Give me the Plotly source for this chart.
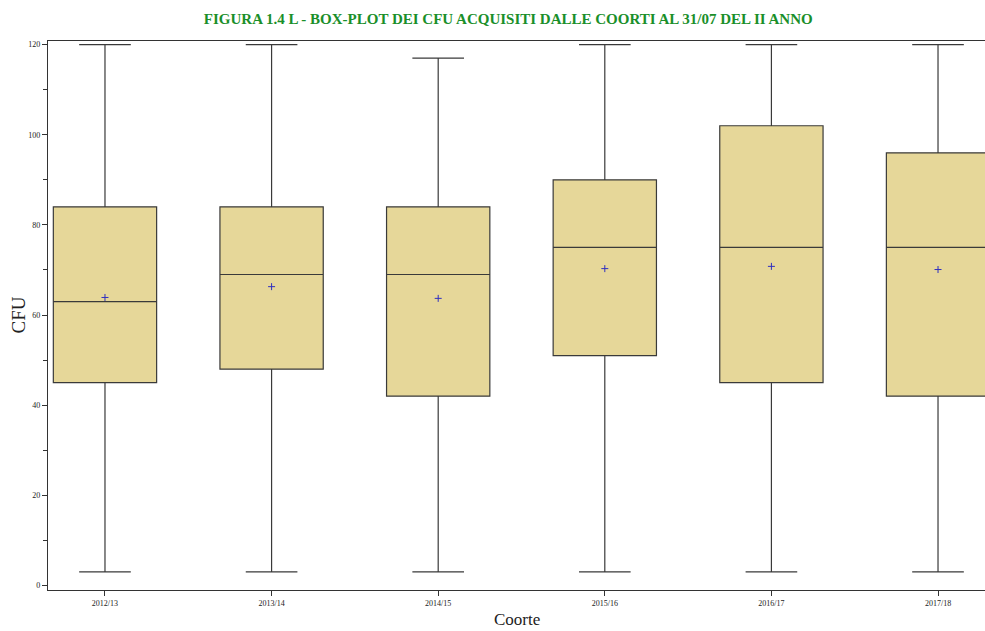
import plotly.graph_objects as go

categories = ["2012/13", "2013/14", "2014/15", "2015/16", "2016/17", "2017/18"]
q1 = [45, 48, 42, 51, 45, 42]
median = [63, 69, 69, 75, 75, 75]
q3 = [84, 84, 84, 90, 102, 96]
lower = [3, 3, 3, 3, 3, 3]
upper = [120, 120, 117, 120, 120, 120]
mean = [63.9, 66.3, 63.7, 70.3, 70.8, 70.1]
y_ticks = [0, 20, 40, 60, 80, 100, 120]

fig = go.Figure()
fig.add_trace(go.Box(
    x=categories, q1=q1, median=median, q3=q3,
    lowerfence=lower, upperfence=upper,
    fillcolor="#E6D799", line=dict(color="#3a3a3a", width=1.2),
    width=0.62, whiskerwidth=0.5, boxpoints=False, showlegend=False,
    hoverinfo="skip",
))
fig.add_trace(go.Scatter(
    x=categories, y=mean, mode="markers",
    marker=dict(symbol="cross-thin", size=5, line=dict(color="#3030c0", width=1)),
    showlegend=False, hoverinfo="skip",
))

serif = "Liberation Serif"
fig.update_layout(
    width=985, height=631,
    margin=dict(l=48, r=0, t=41, b=41, autoexpand=False),
    plot_bgcolor="white", paper_bgcolor="white",
    font=dict(family=serif, color="#222"),
    title=dict(
        text="<b>FIGURA 1.4 L - BOX-PLOT DEI CFU ACQUISITI DALLE COORTI AL 31/07 DEL II ANNO</b>",
        font=dict(family=serif, size=15, color="#1a8f2a"),
        x=0.516, xanchor="center", y=0.971, yanchor="middle",
    ),
    annotations=[
        dict(text="Coorte", xref="paper", yref="paper", x=0.5, y=-0.054,
             xanchor="center", yanchor="middle", showarrow=False,
             font=dict(family=serif, size=17, color="#222")),
        dict(text="CFU", xref="paper", yref="paper", x=-0.032, y=0.5,
             xanchor="center", yanchor="middle", showarrow=False, textangle=-90,
             font=dict(family=serif, size=19, color="#222")),
    ],
)
fig.update_xaxes(
    type="category", range=[-0.342, 5.282], automargin=False,
    showline=True, linecolor="#333", linewidth=1.2, mirror=True,
    ticks="outside", ticklen=5, tickcolor="#333",
    tickfont=dict(family=serif, size=8, color="#222"),
    showgrid=False, zeroline=False,
)
fig.update_yaxes(
    range=[-1.0, 120.8], tickvals=y_ticks, automargin=False,
    showline=True, linecolor="#333", linewidth=1.2, mirror=False,
    ticks="outside", ticklen=5, tickcolor="#333",
    tickfont=dict(family=serif, size=8, color="#222"),
    minor=dict(dtick=10, ticks="outside", ticklen=4, tickcolor="#333"),
    showgrid=False, zeroline=False,
)

fig.write_html("out.html")
